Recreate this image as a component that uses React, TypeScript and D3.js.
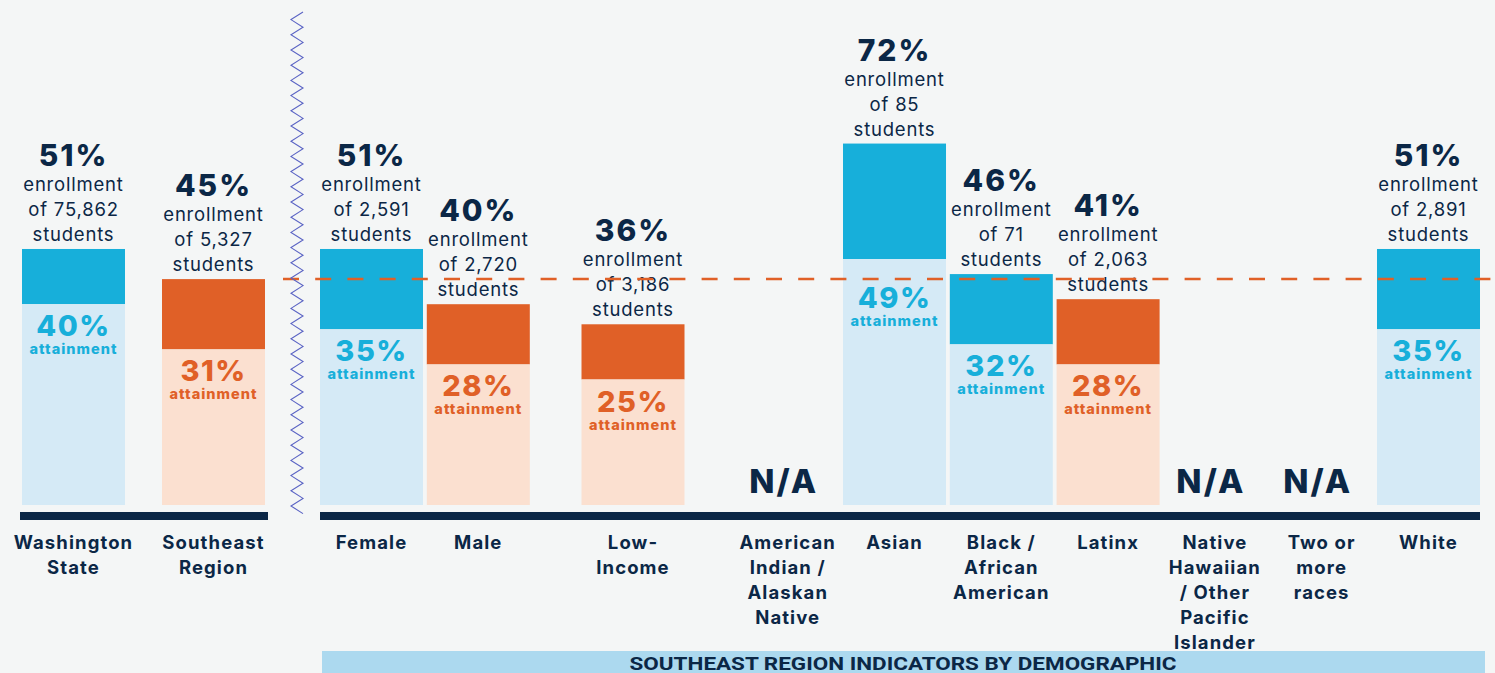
import React from "react";
import * as d3 from "d3";

// ---------- DATA ----------
const leftCategories = ["Washington State", "Southeast Region"];
const leftLabelLines = [["Washington", "State"], ["Southeast", "Region"]];
const leftEnrollment = [51, 45];
const leftAttainment = [40, 31];
const leftStudents = [75862, 5327];

const rightCategories = [
  "Female",
  "Male",
  "Low-Income",
  "American Indian / Alaskan Native",
  "Asian",
  "Black / African American",
  "Latinx",
  "Native Hawaiian / Other Pacific Islander",
  "Two or more races",
  "White",
];
const rightLabelLines = [
  ["Female"],
  ["Male"],
  ["Low-", "Income"],
  ["American", "Indian /", "Alaskan", "Native"],
  ["Asian"],
  ["Black /", "African", "American"],
  ["Latinx"],
  ["Native", "Hawaiian", "/ Other", "Pacific", "Islander"],
  ["Two or", "more", "races"],
  ["White"],
];
// demographic grouping: 0 = gender, 1 = income, 2 = race/ethnicity
const rightGroups = [0, 0, 1, 2, 2, 2, 2, 2, 2, 2];
const rightEnrollment: (number | null)[] = [51, 40, 36, null, 72, 46, 41, null, null, 51];
const rightAttainment: (number | null)[] = [35, 28, 25, null, 49, 32, 28, null, null, 35];
const rightStudents: (number | null)[] = [2591, 2720, 3186, null, 85, 71, 2063, null, null, 2891];

const regionBenchmark = 45; // Southeast Region enrollment (dashed line)
const bannerTitle = "SOUTHEAST REGION INDICATORS BY DEMOGRAPHIC";

// ---------- STYLE ----------
const W = 1495;
const H = 673;
const BG = "#f4f6f6";
const NAVY = "#0b2746";
const BLUE = "#17afda";
const BLUE_LIGHT = "#d5eaf6";
const ORANGE = "#e06027";
const ORANGE_LIGHT = "#fbe0d0";
const ZIG = "#5a63c4";
const FONT = "Inter, 'Noto Sans', sans-serif";
const BAR_W = 103;

const y = d3.scaleLinear().domain([0, 100]).range([505, 3]);

const xLeft = d3
  .scaleBand<string>()
  .domain(leftCategories)
  .range([22, 265])
  .paddingInner(37 / 140)
  .paddingOuter(0);

const gapUnits = 48 / 107;
const slots = rightCategories.map((_, i) => i + rightGroups[i] * gapUnits);
const xRight = d3
  .scaleLinear()
  .domain([0, d3.max(slots) as number])
  .range([320, 1377]);

type Item = {
  x: number;
  lines: string[];
  enr: number | null;
  att: number | null;
  n: number | null;
};

const items: Item[] = [
  ...leftCategories.map((c, i) => ({
    x: xLeft(c) as number,
    lines: leftLabelLines[i],
    enr: leftEnrollment[i],
    att: leftAttainment[i],
    n: leftStudents[i],
  })),
  ...rightCategories.map((c, i) => ({
    x: xRight(slots[i]),
    lines: rightLabelLines[i],
    enr: rightEnrollment[i],
    att: rightAttainment[i],
    n: rightStudents[i],
  })),
];

const fmt = d3.format(",");

function Bar({ it }: { it: Item }) {
  const cx = it.x + BAR_W / 2;
  const labels = (
    <g
      fill={NAVY}
      fontFamily={FONT}
      fontWeight={700}
      fontSize={18.5}
      letterSpacing={1.1}
      textAnchor="middle"
    >
      {it.lines.map((l, k) => (
        <text key={k} x={cx} y={549 + k * 25}>
          {l}
        </text>
      ))}
    </g>
  );
  if (it.enr == null || it.att == null) {
    return (
      <g>
        <text
          x={cx - 4}
          y={y(0) - 12}
          textAnchor="middle"
          fill={NAVY}
          fontFamily={FONT}
          fontWeight={800}
          fontSize={33}
          letterSpacing={2}
        >
          N/A
        </text>
        {labels}
      </g>
    );
  }
  const below = it.enr <= regionBenchmark;
  const dark = below ? ORANGE : BLUE;
  const light = below ? ORANGE_LIGHT : BLUE_LIGHT;
  const top = y(it.enr);
  const attTop = y(it.att);
  const dashY = y(regionBenchmark);
  let pBase = attTop + 32;
  if (attTop < dashY && attTop + 32 - 22 < dashY + 4) pBase = dashY + 29;
  return (
    <g>
      <rect x={it.x} y={top} width={BAR_W} height={attTop - top} fill={dark} />
      <rect x={it.x} y={attTop} width={BAR_W} height={y(0) - attTop} fill={light} />
      <g textAnchor="middle" fontFamily={FONT}>
        <text x={cx} y={top - 83} fill={NAVY} fontWeight={800} fontSize={30} letterSpacing={2}>
          {it.enr}%
        </text>
        <text x={cx} y={top - 58} fill={NAVY} fontWeight={400} fontSize={18.5} letterSpacing={0.8}>
          enrollment
        </text>
        <text x={cx} y={top - 33} fill={NAVY} fontWeight={400} fontSize={18.5} letterSpacing={0.8}>
          of {fmt(it.n as number)}
        </text>
        <text x={cx} y={top - 8} fill={NAVY} fontWeight={400} fontSize={18.5} letterSpacing={0.8}>
          students
        </text>
        <text x={cx} y={pBase} fill={dark} fontWeight={800} fontSize={29} letterSpacing={1.5}>
          {it.att}%
        </text>
        <text
          x={cx}
          y={pBase + 18}
          fill={dark}
          fontWeight={800}
          fontSize={14.5}
          letterSpacing={1}
        >
          attainment
        </text>
      </g>
      {labels}
    </g>
  );
}

export default function App() {
  const zigPts: [number, number][] = d3
    .range(12, 519, 7.6)
    .map((yy, i) => [i % 2 === 0 ? 303 : 291, yy]);
  const zigPath = d3.line()(zigPts) as string;
  const dashY = y(regionBenchmark);
  return (
    <svg
      width={W}
      height={H}
      style={{ position: "absolute", left: 0, top: 0, display: "block" }}
    >
      <rect x={0} y={0} width={W} height={H} fill={BG} />
      {items.map((it, i) => (
        <Bar key={i} it={it} />
      ))}
      <line
        x1={283}
        x2={W}
        y1={dashY}
        y2={dashY}
        stroke={ORANGE}
        strokeWidth={2.5}
        strokeDasharray="16 16.2"
      />
      <path d={zigPath} fill="none" stroke={ZIG} strokeWidth={1.1} />
      <rect x={20} y={512} width={248} height={8} fill={NAVY} />
      <rect x={320} y={512} width={1160} height={8} fill={NAVY} />
      <rect x={322} y={651} width={1163} height={22} fill="#acd9ef" />
      <text
        x={903}
        y={670}
        textAnchor="middle"
        fill={NAVY}
        fontFamily="Roboto, sans-serif"
        fontWeight={700}
        fontSize={18}
        textLength={547}
        lengthAdjust="spacingAndGlyphs"
      >
        {bannerTitle}
      </text>
    </svg>
  );
}
